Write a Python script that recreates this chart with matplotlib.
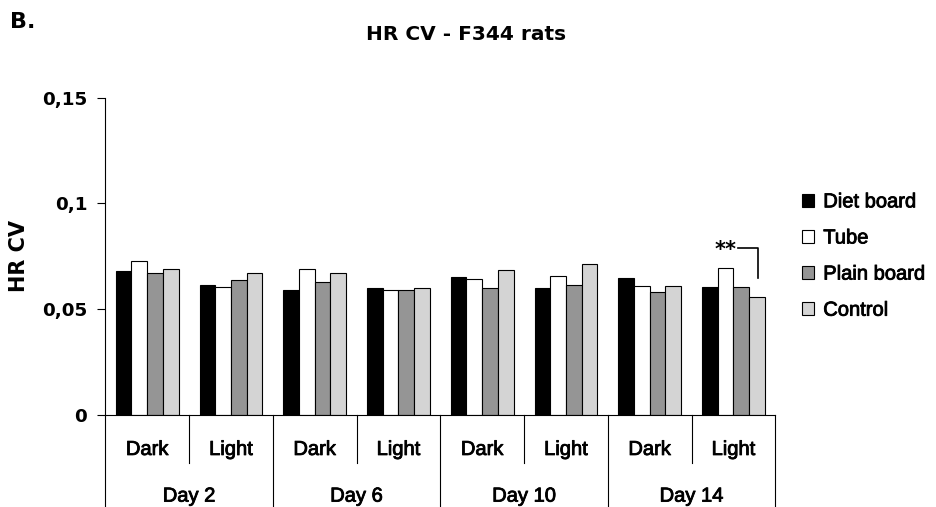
import matplotlib
matplotlib.use('Agg')
import matplotlib.pyplot as plt
import matplotlib.patheffects as pe
import numpy as np

# 数据
days = ['Day 2', 'Day 6', 'Day 10', 'Day 14']
phases = ['Dark', 'Light']
series = ['Diet board', 'Tube', 'Plain board', 'Control']
colors = ['#000000', '#ffffff', '#959595', '#d4d4d4']

diet_board = [0.0681, 0.0615, 0.0593, 0.0599, 0.0650, 0.0599, 0.0648, 0.0606]
tube = [0.0729, 0.0606, 0.0688, 0.0590, 0.0645, 0.0655, 0.0612, 0.0694]
plain_board = [0.0672, 0.0640, 0.0631, 0.0590, 0.0598, 0.0614, 0.0582, 0.0606]
control = [0.0688, 0.0672, 0.0672, 0.0598, 0.0686, 0.0713, 0.0612, 0.0557]

yticks = [0, 0.05, 0.1, 0.15]
ytick_labels = ['0', '0,05', '0,1', '0,15']

BOLD = 'DejaVu Sans'
REG = 'Liberation Sans'
heavy = [pe.withStroke(linewidth=0.6, foreground='black')]  # 字体稍微加粗

fig = plt.figure(figsize=(9.37, 5.07), dpi=100)
ax = fig.add_axes([0.1124, 0.1815, 0.7150, 0.6258])

values = [diet_board, tube, plain_board, control]
n = len(days) * len(phases)
x = np.arange(n)
w = 0.1875
for i in range(len(series)):
    ax.bar(x + (i - 1.5) * w, values[i], width=w, color=colors[i],
           edgecolor='black', linewidth=0.8, label=series[i])

ax.set_xlim(-0.5, n - 0.5)
ax.set_ylim(0, 0.15)
ax.set_yticks(yticks)
ax.set_yticklabels(ytick_labels, fontfamily=BOLD, fontweight='bold', fontsize=13.2)
ax.tick_params(axis='y', length=6, width=0.8, pad=7, direction='out')
ax.set_xticks([])
for s in ['top', 'right']:
    ax.spines[s].set_visible(False)
ax.spines['left'].set_linewidth(0.8)
ax.spines['bottom'].set_linewidth(0.8)

# 分类轴：分隔线和标签
trans = ax.get_xaxis_transform()
for k in range(n + 1):
    xb = k - 0.5
    low = -0.29 if k % 2 == 0 else -0.1513
    ax.plot([xb, xb], [0, low], color='black', lw=0.8, transform=trans, clip_on=False)
for k in range(n):
    ax.text(k, -0.126, phases[k % 2], transform=trans, ha='center', va='baseline',
            fontfamily=REG, fontsize=14.5, path_effects=heavy)
for d in range(len(days)):
    ax.text(2 * d + 0.5, -0.273, days[d], transform=trans, ha='center', va='baseline',
            fontfamily=REG, fontsize=14.5, path_effects=heavy)

# 显著性标记
ax.plot([7.055, 7.297, 7.297], [0.0791, 0.0791, 0.0647], color='black', lw=1.2)
ax.text(6.906, 0.0752, '**', ha='center', va='baseline', fontfamily=BOLD,
        fontweight='bold', fontsize=15)

fig.text(0.0203, 0.495, 'HR CV', rotation=90, ha='center', va='center',
         fontfamily=BOLD, fontweight='bold', fontsize=15)
fig.text(0.497, 0.931, 'HR CV - F344 rats', ha='center', va='center',
         fontfamily=BOLD, fontweight='bold', fontsize=14.5)
fig.text(0.0107, 0.957, 'B.', ha='left', va='center',
         fontfamily=BOLD, fontweight='bold', fontsize=16)

leg = ax.legend(loc='center left', bbox_to_anchor=(801.7 / 937, 1 - 256 / 507),
                bbox_transform=fig.transFigure, frameon=False, borderpad=0,
                borderaxespad=0, handlelength=0.62, handleheight=0.6,
                handletextpad=0.45, labelspacing=0.85,
                prop={'family': REG, 'size': 14.5})
for t in leg.get_texts():
    t.set_path_effects(heavy)

fig.savefig('out.png', dpi=100)
